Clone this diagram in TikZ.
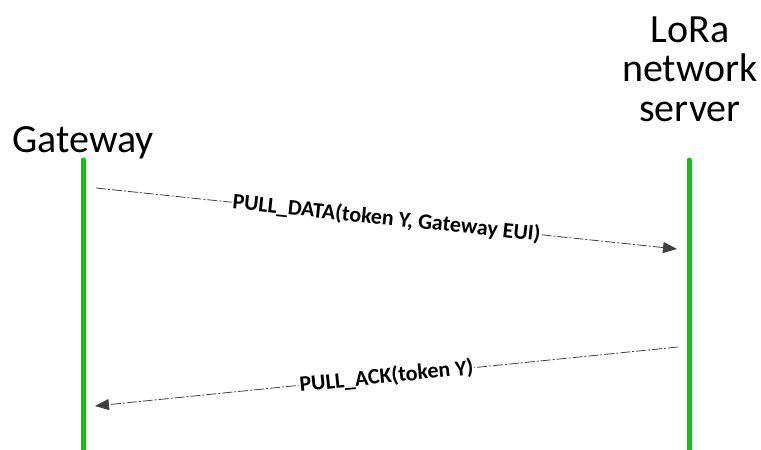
\documentclass[tikz,border=0pt]{standalone}
\usepackage{fontspec}
\setmainfont{Carlito}
\usetikzlibrary{positioning}
\usetikzlibrary{arrows.meta}
\definecolor{lifegreen}{RGB}{0,204,0}
\definecolor{msggray}{RGB}{64,64,64}
\tikzstyle{lifeline}=[draw=lifegreen,line width=5pt,line cap=round]
\tikzstyle{party}=[font=\fontsize{40}{39.5}\selectfont,align=center,inner sep=0pt]
\tikzstyle{message}=[draw=msggray,line width=0.8pt,dash pattern=on 10pt off 2pt on 2pt off 2pt,-{Triangle[length=14pt,width=11pt]}]
\tikzstyle{msglabel}=[font=\fontsize{22}{23}\selectfont\bfseries,fill=white,inner sep=1pt,sloped]

\begin{document}
\begin{tikzpicture}[x=1pt,y=-1pt]
\useasboundingbox (0,0) rectangle (761,450);

    % First we draw the two parties and their lifelines
    \node[party,anchor=base] (gw) at (83,152) {Gateway};
    \node[party,anchor=base] (srv) at (690,121) {LoRa\\network\\server};
    \foreach \name/\xpos in {gw/83, srv/689}
    {
        \coordinate (\name top) at (\xpos,160);
        \coordinate (\name bot) at (\xpos,452);
        \path[lifeline] (\name top) -- (\name bot);
    }

    % Then the messages between them
    \coordinate (m1s) at (96,188);
    \coordinate (m1e) at (677,249);
    \coordinate (m2s) at (678,347);
    \coordinate (m2e) at (95,406);
    \path[message] (m1s) -- node[msglabel] {PULL\_DATA(token Y, Gateway EUI)} (m1e);
    \path[message] (m2s) -- node[msglabel] {PULL\_ACK(token Y)} (m2e);

\end{tikzpicture}
\end{document}
